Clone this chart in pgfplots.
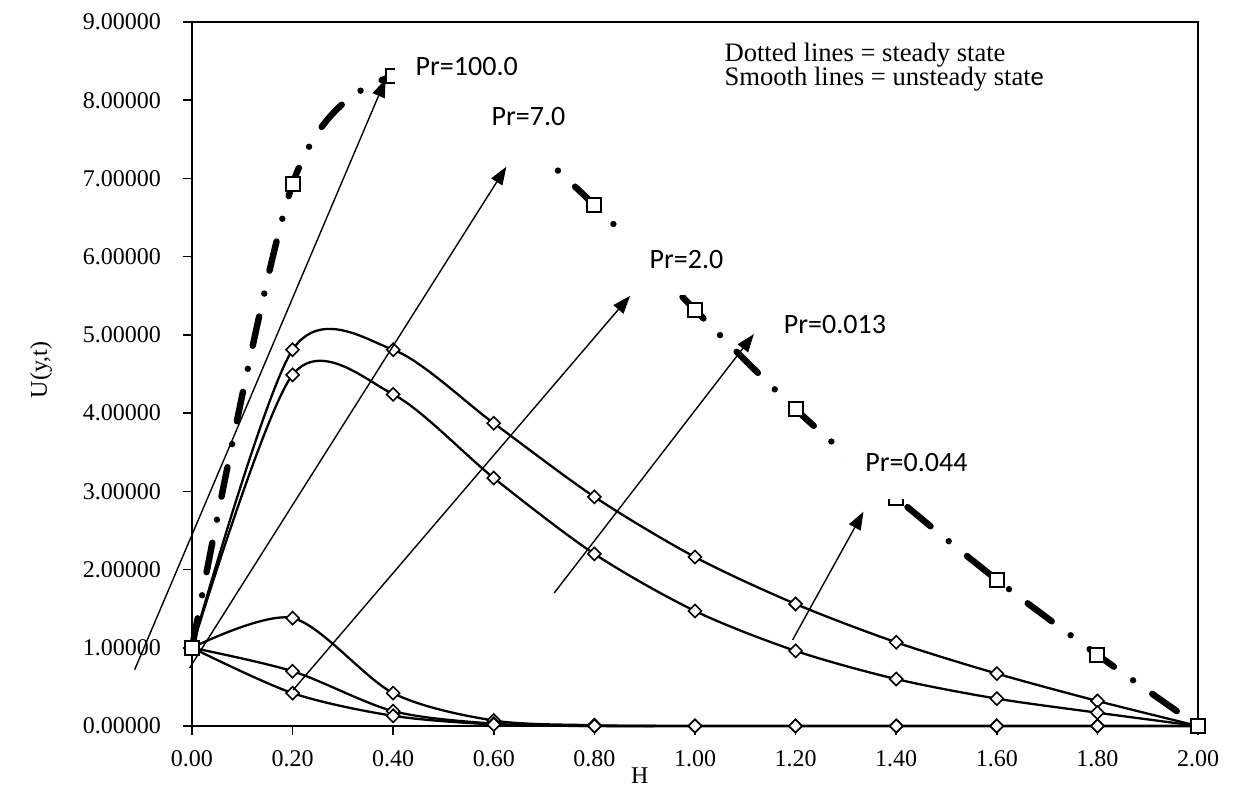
\documentclass[border=0pt]{standalone}
\usepackage{pgfplots}
\pgfplotsset{compat=1.18}
\usepackage{fontspec}
\setmainfont{Liberation Serif}
\newfontfamily\calib{Carlito}
\usetikzlibrary{arrows.meta}

\begin{document}
\begin{tikzpicture}
\begin{axis}[
  scale only axis, width=503bp, height=352bp,
  xmin=0, xmax=2, ymin=0, ymax=9,
  xtick={0,0.2,0.4,0.6,0.8,1.0,1.2,1.4,1.6,1.8,2.0},
  ytick={0,1,2,3,4,5,6,7,8,9},
  /pgf/number format/assume math mode=true,
  xticklabel style={/pgf/number format/.cd, fixed, fixed zerofill, precision=2, /tikz/.cd, yshift=-4bp},
  yticklabel style={/pgf/number format/.cd, fixed, fixed zerofill, precision=5, /tikz/.cd, xshift=-7.5bp},
  tick label style={font=\fontsize{12bp}{14bp}\selectfont},
  xtick pos=bottom, ytick pos=left, tick align=outside,
  major tick length=4.5bp,
  axis line style={line width=1bp},
  tick style={line width=0.8bp, black},
  clip=false,
  smooth, tension=0.5,
  diam/.style={line width=1.15bp, black, mark=square*, mark size=2.3bp,
     mark options={solid, fill=white, rotate=45, line width=0.8bp}},
]
% unsteady state curves
\addplot[diam] coordinates {(0,1)(0.2,4.81)(0.4,4.81)(0.6,3.87)(0.8,2.93)(1.0,2.16)(1.2,1.56)(1.4,1.07)(1.6,0.67)(1.8,0.32)(2.0,0)};
\addplot[diam] coordinates {(0,1)(0.2,4.49)(0.4,4.24)(0.6,3.17)(0.8,2.20)(1.0,1.47)(1.2,0.96)(1.4,0.60)(1.6,0.35)(1.8,0.17)(2.0,0)};
\addplot[diam] coordinates {(0,1)(0.2,1.38)(0.4,0.42)(0.6,0.07)(0.8,0.01)(1.0,0)(1.2,0)(1.4,0)(1.6,0)(1.8,0)(2.0,0)};
\addplot[diam] coordinates {(0,1)(0.2,0.70)(0.4,0.19)(0.6,0.03)(0.8,0)(1.0,0)(1.2,0)(1.4,0)(1.6,0)(1.8,0)(2.0,0)};
\addplot[diam] coordinates {(0,1)(0.2,0.42)(0.4,0.13)(0.6,0.02)(0.8,0)(1.0,0)(1.2,0)(1.4,0)(1.6,0)(1.8,0)(2.0,0)};
% steady state
\addplot[black, line width=3.2bp, line cap=round,
  dash pattern=on 15bp off 11.75bp on 0bp off 11.75bp,
  mark=square*, mark size=3.5bp, mark options={solid, fill=white, line width=1bp}]
  coordinates {(0,1)(0.2,6.93)(0.4,8.31)(0.6,7.78)(0.8,6.66)(1.0,5.32)(1.2,4.05)(1.4,2.92)(1.6,1.87)(1.8,0.91)(2.0,0)};

% coordinates for annotations drawn after the axis
\coordinate (r1a) at (axis cs:0.403,8.0);   \coordinate (r1b) at (axis cs:0.70,8.95);
\coordinate (r2a) at (axis cs:0.53,7.23);   \coordinate (r2b) at (axis cs:0.78,8.05);
\coordinate (r3a) at (axis cs:0.855,5.51);  \coordinate (r3b) at (axis cs:1.08,6.32);
\coordinate (r4a) at (axis cs:1.30,2.90);   \coordinate (r4b) at (axis cs:1.58,3.55);
\coordinate (t1) at (axis cs:0.444,8.32);
\coordinate (t2) at (axis cs:0.595,7.68);
\coordinate (t3) at (axis cs:0.909,5.855);
\coordinate (t4) at (axis cs:1.176,5.02);
\coordinate (t5) at (axis cs:1.338,3.25);
\coordinate (l1) at (axis cs:1.058,8.50);
\coordinate (l2) at (axis cs:1.058,8.19);
\coordinate (a1s) at (axis cs:-0.114,0.72); \coordinate (a1e) at (axis cs:0.385,8.27);
\coordinate (a2s) at (axis cs:-0.005,0.74); \coordinate (a2e) at (axis cs:0.625,7.15);
\coordinate (a3s) at (axis cs:0.201,0.46);  \coordinate (a3e) at (axis cs:0.871,5.50);
\coordinate (a4s) at (axis cs:0.72,1.70);   \coordinate (a4e) at (axis cs:1.117,5.01);
\coordinate (a5s) at (axis cs:1.194,1.10);  \coordinate (a5e) at (axis cs:1.335,2.74);

% axis labels
\node[font=\fontsize{12bp}{14bp}\selectfont] at (axis cs:0.89,-0.63) {H};
\node[rotate=90, font=\fontsize{12bp}{14bp}\selectfont] at (axis cs:-0.30,4.55) {U(y,t)};
\end{axis}

% white label boxes (cover the steady line like the text boxes)
\fill[white] (r1a) rectangle (r1b);
\fill[white] (r2a) rectangle (r2b);
\fill[white] (r3a) rectangle (r3b);
\fill[white] (r4a) rectangle (r4b);

% labels
\begin{scope}[every node/.style={font=\calib\fontsize{14bp}{16bp}\selectfont, anchor=base west, inner sep=0pt}]
\node at (t1) {Pr=100.0};
\node at (t2) {Pr=7.0};
\node at (t3) {Pr=2.0};
\node at (t4) {Pr=0.013};
\node at (t5) {Pr=0.044};
\end{scope}
\node[anchor=base west, inner sep=0pt, font=\fontsize{13.3bp}{15bp}\selectfont] at (l1) {Dotted lines = steady state};
\node[anchor=base west, inner sep=0pt, font=\fontsize{13.3bp}{15bp}\selectfont] at (l2) {Smooth lines = unsteady stat{\calib e}};

% arrows
\begin{scope}[line width=0.7bp, -{Triangle[length=9bp,width=6.5bp]}]
\draw (a1s) -- (a1e);
\draw (a2s) -- (a2e);
\draw (a3s) -- (a3e);
\draw (a4s) -- (a4e);
\draw (a5s) -- (a5e);
\end{scope}

\pgfresetboundingbox
\path (current axis.south west) ++(-96bp,-37bp) rectangle ++(628.5bp,400bp);
\end{tikzpicture}
\end{document}
